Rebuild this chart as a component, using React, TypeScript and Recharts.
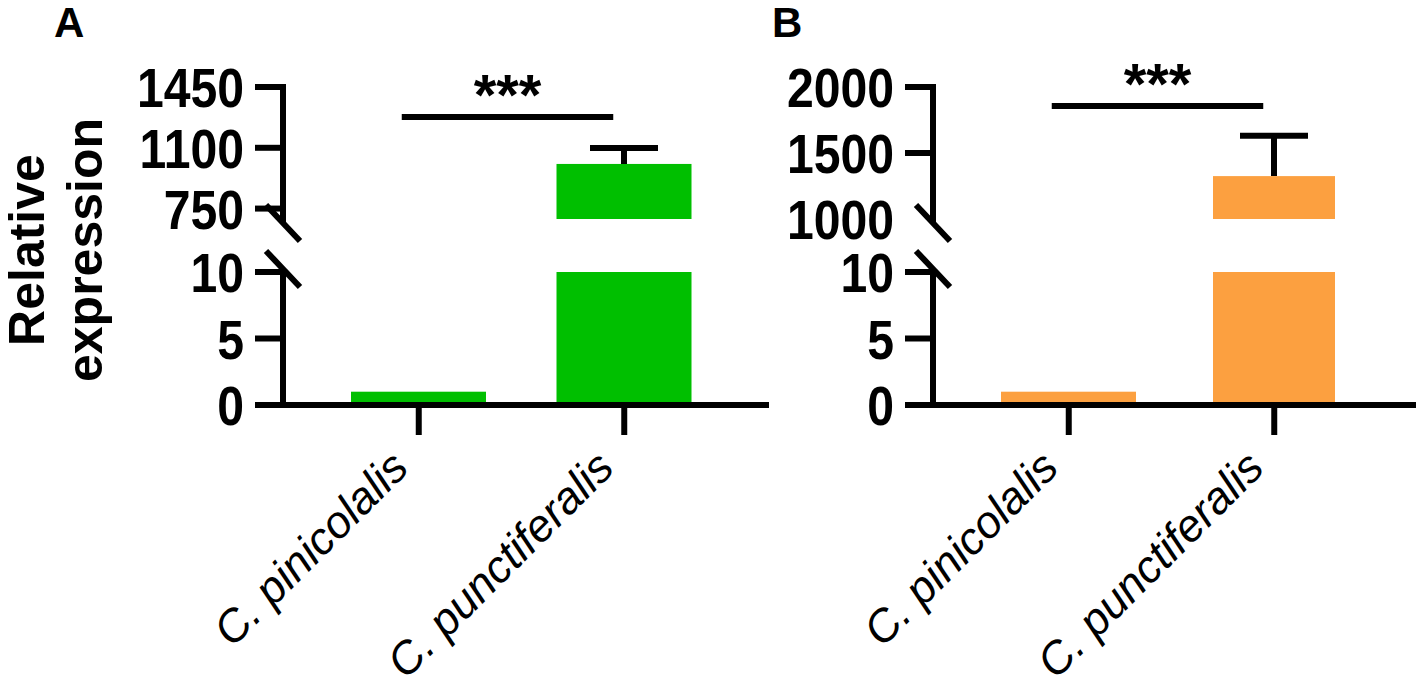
import React from "react";
import { BarChart, Bar, XAxis, YAxis, ReferenceLine } from "recharts";

// data
const species = ["C. pinicolalis", "C. punctiferalis"];
const meanA = [1, 1007];
const errA = [0, 92];
const meanB = [1, 1325];
const errB = [0, 305];
const lowDomain = [0, 10];
const lowTicks = [0, 5, 10];
const highDomainA = [690, 1450];
const highTicksA = [750, 1100, 1450];
const highDomainB = [1000, 2000];
const highTicksB = [1000, 1500, 2000];
const sigLevel = [1277, 1856]; // height of the *** line, A then B

// layout
const AXIS_X = 283;
const PLOT_W = 483;
const UP_TOP = 87;
const UP_BOT = 219;
const LO_TOP = 272;
const LO_BOT = 405;
const TICK = 28;
const TICK_GAP = 11;
const PAD = { left: 33, right: 39 };
const SANS = "'Liberation Sans', Arial, sans-serif";

const axisStyle = { stroke: "#000", strokeWidth: 6, strokeLinecap: "square" as const };

const YTick = (props: any) => {
    const { x, y, payload, skipLineAt } = props;
    return (
        <g>
            {payload.value !== skipLineAt && (
                <line x1={x + TICK_GAP} x2={x + TICK_GAP + TICK + 2} y1={y} y2={y} stroke="#000" strokeWidth={6} />
            )}
            <g transform={`translate(${x},${y}) scale(0.86,1)`}>
                <text x={0} y={0} dy="0.36em" textAnchor="end" fontFamily={SANS} fontWeight="bold" fontSize={56} fill="#000">
                    {payload.value}
                </text>
            </g>
        </g>
    );
};

const XTick = (props: any) => {
    const { x, y, payload } = props;
    return (
        <g transform={`translate(${x - 8},${y + 35})`}>
            <text transform="rotate(-45)" textAnchor="end" fontFamily={SANS} fontStyle="italic" fontSize={45} fill="#000">
                {payload.value}
            </text>
        </g>
    );
};

const ErrT = (props: any) => {
    const { x, y, width, height } = props;
    if (!height || height <= 0) return null;
    const cx = x + width / 2;
    return (
        <g stroke="#000" strokeWidth={6}>
            <line x1={cx} x2={cx} y1={y} y2={y + height} />
            <line x1={cx - 34} x2={cx + 34} y1={y} y2={y} />
        </g>
    );
};

const SigBar = (props: any) => {
    const { x1, y1, x2 } = props;
    const a = x1 - 17;
    const b = x2 - 11;
    return (
        <g>
            <line x1={a} x2={b} y1={y1} y2={y1} stroke="#000" strokeWidth={6} />
            <text x={(a + b) / 2} y={y1 - 2} textAnchor="middle" fontFamily={SANS} fontWeight="bold" fontSize={58} fill="#000">
                ***
            </text>
        </g>
    );
};

interface PanelProps {
    left: number
    means: number[]
    errs: number[]
    color: string
    highDomain: number[]
    highTicks: number[]
    sig: number
    narrowSecond?: number
}

const Panel: React.FC<PanelProps> = ({ left, means, errs, color, highDomain, highTicks, sig, narrowSecond }) => {
    const data = species.map((name, i) => ({ name, mean: means[i], err: errs[i] }));
    const barShape = (p: any) => {
        const w = narrowSecond && p.index === 1 ? narrowSecond : p.width;
        return <rect x={p.x + (p.width - w) / 2} y={p.y} width={w} height={Math.max(0, p.height)} fill={color} />;
    };
    const W = AXIS_X + PLOT_W + 10;
    return (
        <>
            <div style={{ position: "absolute", left, top: 0 }}>
                <BarChart width={W} height={UP_BOT + 40} data={data} margin={{ top: UP_TOP, right: 10, bottom: 40, left: 0 }}>
                    <XAxis dataKey="name" hide padding={PAD} />
                    <YAxis
                        width={AXIS_X}
                        domain={highDomain}
                        ticks={highTicks}
                        interval={0}
                        allowDataOverflow
                        axisLine={axisStyle}
                        tickLine={false}
                        tickSize={TICK}
                        tickMargin={TICK_GAP}
                        tick={(p: any) => <YTick {...p} skipLineAt={highDomain[0]} />}
                    />
                    <Bar dataKey="mean" stackId="s" barSize={135} fill={color} shape={barShape} isAnimationActive={false} />
                    <Bar dataKey="err" stackId="s" barSize={135} fill="none" shape={<ErrT />} isAnimationActive={false} />
                    <ReferenceLine
                        segment={[{ x: species[0], y: sig }, { x: species[1], y: sig }]}
                        ifOverflow="visible"
                        shape={(p: any) => <SigBar {...p} />}
                    />
                </BarChart>
            </div>
            <div style={{ position: "absolute", left, top: 0 }}>
                <BarChart width={W} height={695} data={data} margin={{ top: LO_TOP, right: 10, bottom: 0, left: 0 }}>
                    <XAxis
                        dataKey="name"
                        height={695 - LO_BOT}
                        padding={PAD}
                        interval={0}
                        axisLine={axisStyle}
                        tickLine={{ stroke: "#000", strokeWidth: 6 }}
                        tickSize={30}
                        tickMargin={0}
                        tick={<XTick />}
                    />
                    <YAxis
                        width={AXIS_X}
                        domain={lowDomain}
                        ticks={lowTicks}
                        interval={0}
                        allowDataOverflow
                        axisLine={axisStyle}
                        tickLine={false}
                        tickSize={TICK}
                        tickMargin={TICK_GAP}
                        tick={(p: any) => <YTick {...p} />}
                    />
                    <Bar dataKey="mean" barSize={135} fill={color} shape={barShape} isAnimationActive={false} />
                </BarChart>
            </div>
            <svg width={60} height={120} style={{ position: "absolute", left: left + AXIS_X - 30, top: 190 }}>
                <g stroke="#000" strokeWidth={6}>
                    <line x1={13} y1={15} x2={47} y2={51} />
                    <line x1={13} y1={61} x2={47} y2={97} />
                </g>
            </svg>
        </>
    );
};

const App: React.FC = () => {
    return (
        <div style={{ position: "absolute", left: 0, top: 0, width: 1416, height: 695, overflow: "hidden", background: "#fff" }}>
            <Panel left={0} means={meanA} errs={errA} color="#00BF00" highDomain={highDomainA} highTicks={highTicksA} sig={sigLevel[0]} />
            <Panel left={650} means={meanB} errs={errB} color="#FCA040" highDomain={highDomainB} highTicks={highTicksB} sig={sigLevel[1]} narrowSecond={122} />
            <svg width={1416} height={695} style={{ position: "absolute", left: 0, top: 0, pointerEvents: "none" }}>
                <text x={54} y={37} fontFamily={SANS} fontWeight="bold" fontSize={42} fill="#000">A</text>
                <text x={772} y={37} fontFamily={SANS} fontWeight="bold" fontSize={42} fill="#000">B</text>
                <text transform="translate(44,250) rotate(-90)" textAnchor="middle" fontFamily={SANS} fontWeight="bold" fontSize={50} fill="#000">Relative</text>
                <text transform="translate(102,250) rotate(-90)" textAnchor="middle" fontFamily={SANS} fontWeight="bold" fontSize={50} fill="#000">expression</text>
            </svg>
        </div>
    );
};

export default App;
